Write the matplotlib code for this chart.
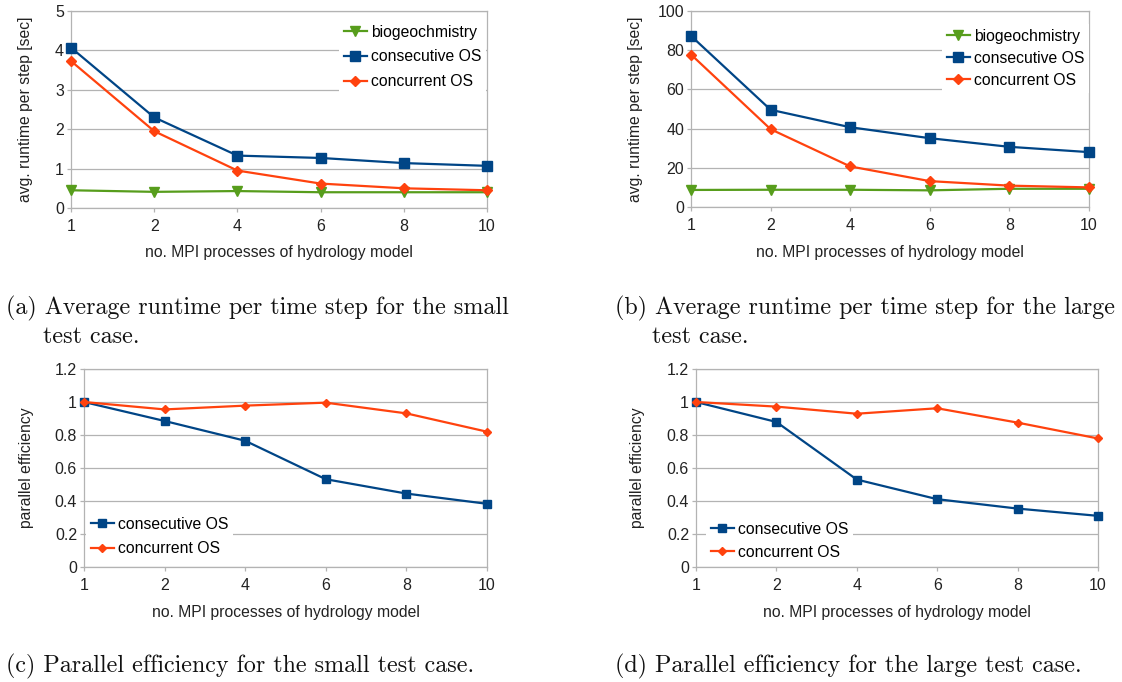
import matplotlib
matplotlib.use("Agg")
import matplotlib.pyplot as plt
from matplotlib.ticker import FuncFormatter

# Data
procs = ["1", "2", "4", "6", "8", "10"]

small_bio = [0.45, 0.41, 0.43, 0.40, 0.40, 0.40]
small_consec = [4.07, 2.30, 1.33, 1.27, 1.14, 1.07]
small_concur = [3.73, 1.95, 0.95, 0.62, 0.50, 0.45]

large_bio = [8.7, 8.8, 8.8, 8.5, 9.3, 9.3]
large_consec = [87.3, 49.6, 40.7, 35.1, 30.7, 28.0]
large_concur = [77.8, 39.7, 20.7, 13.2, 10.9, 10.0]

eff_small_consec = [1.0, 0.885, 0.765, 0.532, 0.445, 0.383]
eff_small_concur = [1.0, 0.955, 0.978, 0.996, 0.931, 0.820]
eff_large_consec = [1.0, 0.879, 0.530, 0.411, 0.354, 0.310]
eff_large_concur = [1.0, 0.972, 0.929, 0.962, 0.875, 0.779]

captions = [
    ["(a) Average runtime per time step for the small", "test case."],
    ["(b) Average runtime per time step for the large", "test case."],
    ["(c) Parallel efficiency for the small test case."],
    ["(d) Parallel efficiency for the large test case."],
]

BLUE = "#004586"
ORANGE = "#ff420e"
GREEN = "#579d1c"
GRID = "#b3b3b3"

W, H = 1122, 682
plt.rcParams['font.family'] = ['Liberation Sans', 'DejaVu Sans']
fig = plt.figure(figsize=(W / 100, H / 100), dpi=100)


def box(l, t, r, b):
    return [l / W, 1 - b / H, (r - l) / W, (b - t) / H]


def fx(x):
    return x / W


def fy(y):
    return 1 - y / H


def style_axes(ax, ymax, ystep, ylab, ylab_x, xlab_y):
    ax.set_xlim(0, len(procs) - 1)
    ax.set_ylim(0, ymax)
    ax.set_xticks(range(len(procs)))
    ax.set_xticklabels(procs)
    n = int(round(ymax / ystep))
    ax.set_yticks([i * ystep for i in range(n + 1)])
    ax.yaxis.set_major_formatter(FuncFormatter(lambda v, p: "%g" % round(v, 3)))
    ax.grid(axis='y', color=GRID, lw=0.9)
    ax.set_axisbelow(True)
    for s in ax.spines.values():
        s.set_color(GRID)
        s.set_linewidth(0.9)
    ax.tick_params(axis='both', colors=GRID, labelcolor='#222222',
                   labelsize=11.5, length=3, width=0.9)
    ax.tick_params(axis='y', pad=2)
    ax.tick_params(axis='x', pad=5)
    ax.set_ylabel(ylab, fontsize=11.3, color='#222222')
    ax.set_xlabel("no. MPI processes of hydrology model", fontsize=11.3,
                  color='#222222', va='center')
    pos = ax.get_position()
    ax.yaxis.set_label_coords(fx(ylab_x), 0.5 * (pos.y0 + pos.y1), transform=fig.transFigure)
    ax.xaxis.set_label_coords(0.5 * (pos.x0 + pos.x1), fy(xlab_y), transform=fig.transFigure)


def add_legend(ax, x, y, spacing):
    leg = ax.legend(loc='upper left', bbox_to_anchor=(fx(x), fy(y)),
                    bbox_transform=fig.transFigure, fontsize=11.3,
                    frameon=True, fancybox=False, framealpha=1,
                    facecolor='white', edgecolor='none', borderpad=0.3,
                    borderaxespad=0, handlelength=1.5, handletextpad=0.25,
                    labelspacing=spacing)
    leg.set_zorder(5)


line_kw = dict(lw=1.6, clip_on=False, zorder=3)

# (a) small runtime
ax = fig.add_axes(box(71, 11, 487, 208))
ax.plot(range(6), small_bio, color=GREEN, marker='v', ms=7, label="biogeochmistry", **line_kw)
ax.plot(range(6), small_consec, color=BLUE, marker='s', ms=6.5, label="consecutive OS", **line_kw)
ax.plot(range(6), small_concur, color=ORANGE, marker='D', ms=5, label="concurrent OS", **line_kw)
style_axes(ax, 5, 1, "avg. runtime per step [sec]", 33, 252)
add_legend(ax, 339, 20, 0.62)

# (b) large runtime
ax = fig.add_axes(box(691, 11, 1089, 207))
ax.plot(range(6), large_bio, color=GREEN, marker='v', ms=7, label="biogeochmistry", **line_kw)
ax.plot(range(6), large_consec, color=BLUE, marker='s', ms=6.5, label="consecutive OS", **line_kw)
ax.plot(range(6), large_concur, color=ORANGE, marker='D', ms=5, label="concurrent OS", **line_kw)
style_axes(ax, 100, 20, "avg. runtime per step [sec]", 643, 252)
add_legend(ax, 942, 24, 0.45)

# (c) small efficiency
ax = fig.add_axes(box(84, 369, 487, 567))
ax.plot(range(6), eff_small_consec, color=BLUE, marker='s', ms=6, label="consecutive OS", **line_kw)
ax.plot(range(6), eff_small_concur, color=ORANGE, marker='D', ms=4.5, label="concurrent OS", **line_kw)
style_axes(ax, 1.2, 0.2, "parallel efficiency", 34, 612)
add_legend(ax, 86, 512, 0.62)

# (d) large efficiency
ax = fig.add_axes(box(696, 369, 1098, 567))
ax.plot(range(6), eff_large_consec, color=BLUE, marker='s', ms=6, label="consecutive OS", **line_kw)
ax.plot(range(6), eff_large_concur, color=ORANGE, marker='D', ms=4.5, label="concurrent OS", **line_kw)
style_axes(ax, 1.2, 0.2, "parallel efficiency", 645, 612)
add_legend(ax, 706, 517, 0.5)

# captions below each panel
cap_kw = dict(fontsize=17.3, family=['cmr10', 'DejaVu Serif'], va='baseline', color='#111111')
fig.text(fx(6), fy(314), captions[0][0], **cap_kw)
fig.text(fx(43), fy(343), captions[0][1], **cap_kw)
fig.text(fx(615), fy(314), captions[1][0], **cap_kw)
fig.text(fx(652), fy(343), captions[1][1], **cap_kw)
fig.text(fx(6), fy(672), captions[2][0], **cap_kw)
fig.text(fx(615), fy(672), captions[3][0], **cap_kw)

fig.savefig("out.png", dpi=100)
